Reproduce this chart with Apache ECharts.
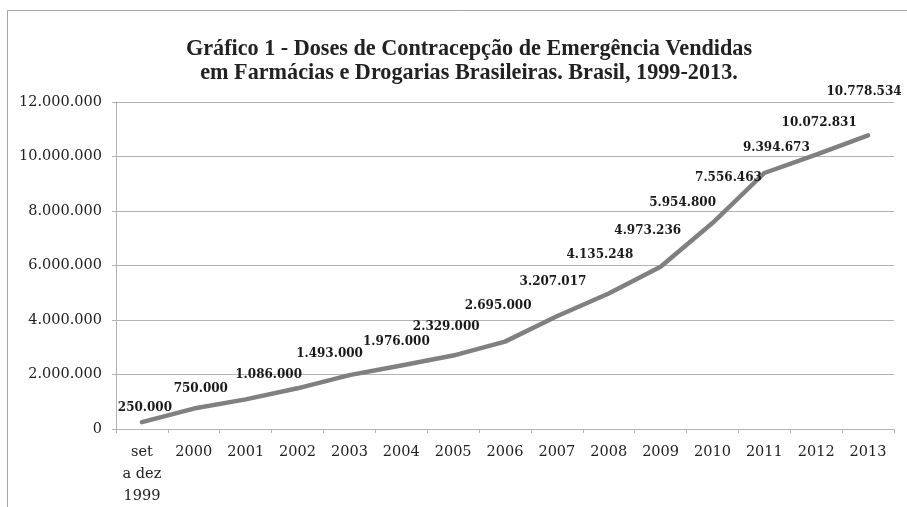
<!DOCTYPE html>
<html>
<head>
<meta charset="utf-8">
<script src="https://cdn.jsdelivr.net/npm/echarts@6/dist/echarts.min.js"></script>
<style>
html,body{margin:0;padding:0;background:#fff;}
#chart{width:907px;height:507px;}
</style>
</head>
<body>
<div id="chart"></div>
<script>
var categories = ['set\na dez\n1999','2000','2001','2002','2003','2004','2005','2006','2007','2008','2009','2010','2011','2012','2013'];
var doses = [250000, 750000, 1086000, 1493000, 1976000, 2329000, 2695000, 3207017, 4135248, 4973236, 5954800, 7556463, 9394673, 10072831, 10778534];
var titleLines = ['Gráfico 1 - Doses de Contracepção de Emergência Vendidas', 'em Farmácias e Drogarias Brasileiras. Brasil, 1999-2013.'];

// label placement (layout only): offset of each label centre from its point
var labelOffsets = [[3,-14],[7,-20],[23,-25],[32,-34],[47,-33],[45,-39],[45,-50],[48,-60],[43,-61],[39,-63],[22,-64],[16,-45],[12,-25],[3,-32],[-4,-43]];

function fmt(n){ return String(n).replace(/\B(?=(\d{3})+(?!\d))/g, '.'); }

var chart = echarts.init(document.getElementById('chart'), null, {renderer:'canvas'});
chart.setOption({
  animation: false,
  backgroundColor: '#ffffff',
  title: {
    text: titleLines.join('\n'),
    left: 469,
    top: 37,
    padding: 0,
    textAlign: 'center',
    textStyle: { fontFamily: 'Liberation Serif', fontWeight: 'bold', fontSize: 22.2, color: '#222', lineHeight: 24 }
  },
  graphic: [{
    type: 'rect', silent: true, z: -1,
    shape: { x: 7.5, y: 10.5, width: 1000, height: 1000 },
    style: { fill: null, stroke: '#a6a6a6', lineWidth: 1 }
  }],
  grid: { left: 116, right: 13, top: 102, bottom: 76, containLabel: false },
  xAxis: {
    type: 'category',
    data: categories,
    boundaryGap: true,
    axisLine: { lineStyle: { color: '#b3b3b3', width: 1 } },
    axisTick: { show: true, length: 4, alignWithLabel: false, lineStyle: { color: '#b3b3b3' } },
    axisLabel: { interval: 0, margin: 12, fontFamily: 'DejaVu Serif', fontSize: 14.5, color: '#222', lineHeight: 22 }
  },
  yAxis: {
    type: 'value',
    min: 0, max: 12000000, interval: 2000000,
    axisLine: { show: true, lineStyle: { color: '#b3b3b3', width: 1 } },
    axisTick: { show: true, length: 4, lineStyle: { color: '#b3b3b3' } },
    splitLine: { lineStyle: { color: '#b3b3b3', width: 1 } },
    axisLabel: { margin: 14, fontFamily: 'DejaVu Serif', fontSize: 14.5, color: '#222', formatter: fmt }
  },
  series: [{
    type: 'line',
    data: doses,
    symbol: 'circle',
    symbolSize: 1,
    showSymbol: true,
    itemStyle: { color: 'rgba(0,0,0,0)' },
    lineStyle: { color: '#808080', width: 4.5, cap: 'round', join: 'round' },
    label: {
      show: true,
      position: 'inside',
      formatter: function(p){ return fmt(p.value); },
      fontFamily: 'DejaVu Serif', fontWeight: 'bold', fontSize: 12, color: '#1a1a1a'
    },
    labelLayout: function(params){
      var o = labelOffsets[params.dataIndex] || [0,0];
      return { dx: o[0], dy: o[1], hideOverlap: false };
    }
  }]
});
</script>
</body>
</html>
